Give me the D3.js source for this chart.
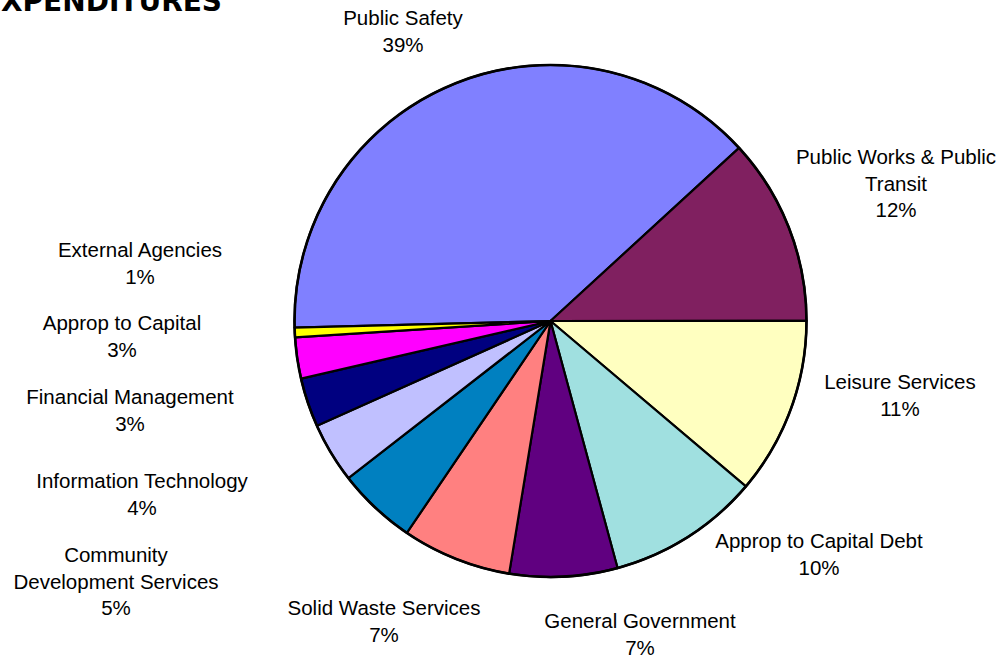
<!DOCTYPE html>
<html>
<head>
<meta charset="utf-8">
<script src="https://cdn.jsdelivr.net/npm/d3@7/dist/d3.min.js"></script>
<style>
  html, body { margin: 0; padding: 0; background: #ffffff; overflow: hidden; }
  svg { display: block; }
</style>
</head>
<body>
<script>
// General fund expenditures by department (share of total, %)
const categories = [
  "Public Safety",
  "Public Works & Public\nTransit",
  "Leisure Services",
  "Approp to Capital Debt",
  "General Government",
  "Solid Waste Services",
  "Community\nDevelopment Services",
  "Information Technology",
  "Financial Management",
  "Approp to Capital",
  "External Agencies"
];
const shares = [38.6, 11.8, 11.2, 9.6, 6.8, 6.9, 5.0, 3.8, 3.1, 2.6, 0.6];
const sliceColors = [
  "#8080FF", "#802060", "#FFFFC0", "#A0E0E0", "#600080", "#FF8080",
  "#0080C0", "#C0C0FF", "#000080", "#FF00FF", "#FFFF00"
];
// label anchor points (centre x, centre y of first line)
const labelAnchors = [
  [403, 18], [896, 157], [900, 382], [819, 541], [640, 621], [384, 608],
  [116, 555], [142, 481], [130, 397], [122, 323], [140, 250]
];

const W = 1004, H = 659;
const cx = 550.5, cy = 321, R = 256;
const lineH = 26.5;

const svg = d3.select("body").append("svg")
  .attr("width", W).attr("height", H)
  .attr("viewBox", `0 0 ${W} ${H}`);

// title, running off the top-left corner
svg.append("text")
  .attr("x", 222).attr("y", 11)
  .attr("text-anchor", "end")
  .attr("font-family", "'DejaVu Sans', Verdana, sans-serif")
  .attr("font-weight", "bold")
  .attr("font-size", 28)
  .attr("fill", "#000")
  .text("EXPENDITURES");

const data = categories.map((c, i) => ({ name: c, value: shares[i], color: sliceColors[i], anchor: labelAnchors[i] }));
const total = d3.sum(shares);

const pie = d3.pie()
  .value(d => d.value)
  .sort(null)
  .startAngle(-91.5 * Math.PI / 180)
  .endAngle((360 - 91.5) * Math.PI / 180);

const arc = d3.arc().innerRadius(0).outerRadius(R);

const g = svg.append("g").attr("transform", `translate(${cx},${cy})`);

g.selectAll("path.slice")
  .data(pie(data))
  .join("path")
  .attr("class", "slice")
  .attr("d", arc)
  .attr("fill", d => d.data.color)
  .attr("stroke", "#000")
  .attr("stroke-width", 2.2)
  .attr("stroke-linejoin", "round");

// outer rim
g.append("circle")
  .attr("r", R)
  .attr("fill", "none")
  .attr("stroke", "#000")
  .attr("stroke-width", 2.6);

const pct = v => Math.round(v / total * 100) + "%";

const labels = svg.append("g")
  .attr("font-family", "'Liberation Sans', Arial, sans-serif")
  .attr("font-size", 20.5)
  .attr("fill", "#000")
  .attr("text-anchor", "middle");

data.forEach(d => {
  const lines = d.name.split("\n").concat([pct(d.value)]);
  const t = labels.append("text");
  lines.forEach((ln, i) => {
    t.append("tspan")
      .attr("x", d.anchor[0])
      .attr("y", d.anchor[1] + 7 + i * lineH)
      .text(ln);
  });
});
</script>
</body>
</html>
